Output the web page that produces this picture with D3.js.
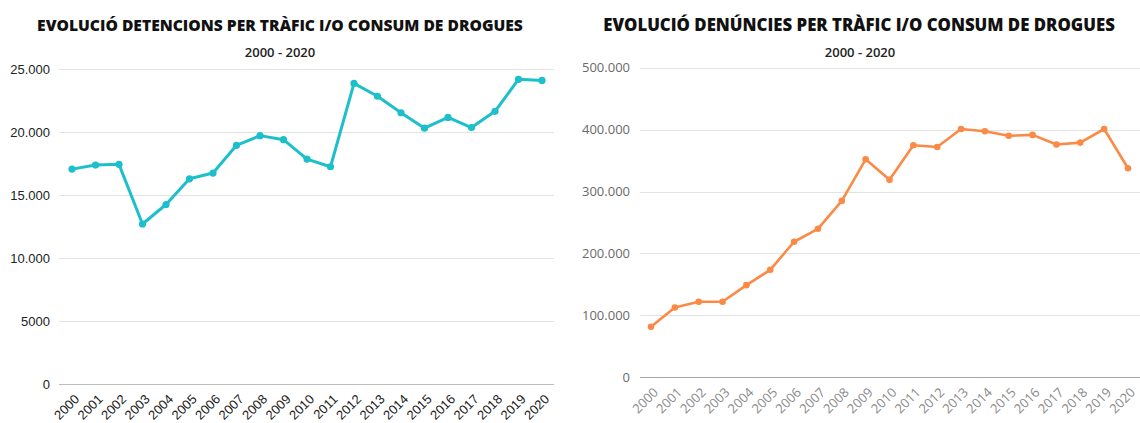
<!DOCTYPE html>
<html>
<head>
<meta charset="utf-8">
<script src="https://cdn.jsdelivr.net/npm/d3@7"></script>
<style>
  body { margin: 0; background: #fff; }
  svg { display: block; }
</style>
</head>
<body>
<svg id="chart" width="1140" height="423"></svg>
<script>
// years shared by both charts
var years = d3.range(2000, 2021);

// detencions (left chart)
var detencions = [17070, 17390, 17450, 12710, 14260, 16300, 16760, 18960, 19730, 19410,
                  17870, 17260, 23880, 22860, 21550, 20320, 21180, 20370, 21660, 24200, 24120];
var detTicks = [0, 5000, 10000, 15000, 20000, 25000];

// denuncies (right chart)
var denuncies = [81500, 112800, 122000, 122000, 148800, 173500, 218900, 239800, 285000, 352000,
                 318900, 374800, 372000, 401000, 397300, 390000, 391500, 376000, 379000, 401000, 337600];
var denTicks = [0, 100000, 200000, 300000, 400000, 500000];

var titles = ["EVOLUCIÓ DETENCIONS PER TRÀFIC I/O CONSUM DE DROGUES",
              "EVOLUCIÓ DENÚNCIES PER TRÀFIC I/O CONSUM DE DROGUES"];
var subtitle = "2000 - 2020";

var svg = d3.select("#chart");

var dots = d3.format(",");
function fmt(v) {
    // 5000 has no separator, bigger numbers use "."
    return v >= 10000 ? dots(v).replace(/,/g, ".") : String(v);
}

var panels = [
    {
        values: detencions, ticks: detTicks, title: titles[0],
        titleX: 280, titleW: 486, subX: 280,
        gridX0: 59, gridX1: 554, x0: 72, x1: 542,
        yBase: 384, yTop: 69.3, yMax: 25000,
        labelFont: "'Liberation Sans', Arial, sans-serif", labelColor: "#222",
        xlabColor: "#222",
        labelRight: 50, base: "#bdbdbd",
        color: "#1dbfca", lineW: 3, r: 3.6
    },
    {
        values: denuncies, ticks: denTicks, title: titles[1],
        titleX: 859, titleW: 512, subX: 860,
        gridX0: 640, gridX1: 1140, x0: 651, x1: 1128,
        yBase: 377.3, yTop: 67.7, yMax: 500000,
        labelFont: "'Open Sans', sans-serif", labelColor: "#6a6a6a",
        xlabColor: "#8a8a8a",
        labelRight: 630, base: "#a8a8a8",
        color: "#fa8a45", lineW: 2.6, r: 3.3
    }
];

panels.forEach(function(p) {
    var g = svg.append("g");

    var x = d3.scaleLinear().domain([2000, 2020]).range([p.x0, p.x1]);
    var y = d3.scaleLinear().domain([0, p.yMax]).range([p.yBase, p.yTop]);

    // title, sized to the reference width
    var t = g.append("text")
        .attr("x", p.titleX)
        .attr("y", 31)
        .attr("text-anchor", "middle")
        .style("font-family", "'Open Sans', sans-serif")
        .style("font-weight", 800)
        .style("font-size", "16px")
        .style("fill", "#111")
        .text(p.title);
    var w = t.node().getComputedTextLength();
    t.style("font-size", (16 * p.titleW / w).toFixed(2) + "px");

    g.append("text")
        .attr("x", p.subX)
        .attr("y", 57)
        .attr("text-anchor", "middle")
        .style("font-family", "'Open Sans', sans-serif")
        .style("font-weight", 600)
        .style("font-size", "13px")
        .style("fill", "#222")
        .text(subtitle);

    // gridlines
    g.selectAll("line.grid")
        .data(p.ticks)
        .enter().append("line")
        .attr("x1", p.gridX0)
        .attr("x2", p.gridX1)
        .attr("y1", function(d) { return Math.round(y(d)) + 0.5; })
        .attr("y2", function(d) { return Math.round(y(d)) + 0.5; })
        .style("stroke", function(d) { return d === 0 ? p.base : "#e3e3e3"; })
        .style("stroke-width", 1.2);

    // y labels
    g.selectAll("text.ylab")
        .data(p.ticks)
        .enter().append("text")
        .attr("x", p.labelRight)
        .attr("y", function(d) { return y(d) + 4.5; })
        .attr("text-anchor", "end")
        .style("font-family", p.labelFont)
        .style("font-size", "13px")
        .style("fill", p.labelColor)
        .text(fmt);

    // x labels, rotated
    g.selectAll("text.xlab")
        .data(years)
        .enter().append("text")
        .attr("transform", function(d) {
            return "translate(" + (x(d) + 8) + "," + (p.yBase + 16) + ") rotate(-45)";
        })
        .attr("text-anchor", "end")
        .style("font-family", p.labelFont)
        .style("font-size", "13px")
        .style("fill", p.xlabColor)
        .text(function(d) { return d; });

    // line + points
    var line = d3.line()
        .x(function(d, i) { return x(years[i]); })
        .y(function(d) { return y(d); });

    g.append("path")
        .datum(p.values)
        .attr("d", line)
        .style("fill", "none")
        .style("stroke", p.color)
        .style("stroke-width", p.lineW)
        .style("stroke-linejoin", "round");

    g.selectAll("circle")
        .data(p.values)
        .enter().append("circle")
        .attr("cx", function(d, i) { return x(years[i]); })
        .attr("cy", function(d) { return y(d); })
        .attr("r", p.r)
        .style("fill", p.color);
});
</script>
</body>
</html>
